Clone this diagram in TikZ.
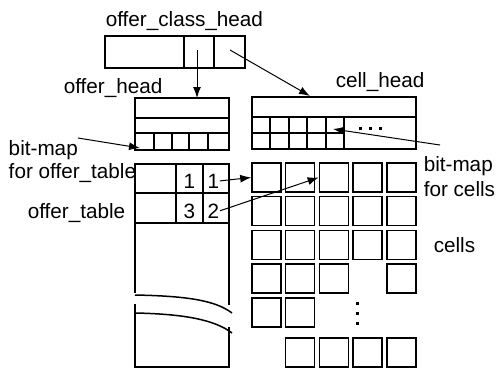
\documentclass[tikz,border=0pt]{standalone}
\usepackage{fontspec}
\setmainfont{Liberation Sans}
\usetikzlibrary{arrows.meta}

\tikzset{
  cell/.style={draw, line width=1.5pt, minimum size=29pt, inner sep=0pt},
  lbl/.style={anchor=base west, inner sep=0pt},
  num/.style={anchor=base east, inner sep=0pt},
  ptr/.style={->, line width=1pt},
}

\begin{document}
\begin{tikzpicture}[x=1pt,y=-1pt,>={Latex[length=11pt,width=8pt]},line width=1.5pt,
    font=\fontsize{20.7}{24}\selectfont]
    \useasboundingbox (0,0) rectangle (496,368);
    % offer_class_head
    \node[lbl] (och label) at (105,26) {offer\_class\_head};
    \draw (105,36) rectangle (245,68);
    \draw (184,36) -- (184,68) (214,36) -- (214,68);
    \coordinate (och a) at (197,50);
    \coordinate (och b) at (230,50);
    % offer_head
    \node[lbl] (oh label) at (63,93) {offer\_head};
    \draw (135,98) rectangle (229,150);
    \draw (135,118) -- (229,118) (135,133) -- (229,133);
    \foreach \x in {154,172,189,208} {
      \draw (\x,133) -- (\x,150);
    }
    \coordinate (oh top) at (197,98);
    \coordinate (oh bits) at (140,148);
    % cell_head
    \node[lbl] (ch label) at (335,87) {cell\_head};
    \draw (252,97) rectangle (416,149);
    \draw (252,117) -- (416,117) (252,133) -- (344,133);
    \foreach \x in {270,289,307,326,344} {
      \draw (\x,117) -- (\x,149);
    }
    \foreach \x in {360,370,380} {
      \fill (\x-1.5,126.5) rectangle ++(3,3);
    }
    \coordinate (ch top) at (310,96);
    \coordinate (ch bits) at (333,129);
    % offer_table (open at the bottom, with a break)
    \draw (135,293) -- (135,164) -- (229,164) -- (229,305);
    \draw (135,304) -- (135,367) -- (229,367) -- (229,327);
    \draw (135,193) -- (229,193) (135,223) -- (229,223);
    \draw (176,164) -- (176,223) (203,164) -- (203,223);
    \draw (135,295) .. controls (185,296) and (215,300) .. (232,313);
    \draw (135,313) .. controls (185,314) and (215,320) .. (232,333);
    \node[num] (n11) at (196,188) {1};
    \node[num] (n12) at (220,188) {1};
    \node[num] (n21) at (196,218) {3};
    \node[num] (n22) at (220,218) {2};
    % cells
    \foreach \r/\cols in {0/{0,1,2,3,4},1/{0,1,2,3,4},2/{0,1,2,3,4},3/{0,1,2,4},4/{0,1}} {
      \foreach \c in \cols {
        \node[cell] (c-\r-\c) at (266.5+33.7*\c,177.5+33.7*\r) {};
      }
    }
    \foreach \c in {1,...,4} {
      \node[cell] (c-5-\c) at (266.5+33.7*\c,352.5) {};
    }
    \foreach \y in {303,313,323} {
      \fill (355.5,\y-1.5) rectangle ++(3,3);
    }
    % labels
    \node[lbl] (bm left) at (8,155) {bit-map};
    \node[lbl] (bm left2) at (8,178) {for offer\_table};
    \node[lbl] (ot label) at (27,218) {offer\_table};
    \node[lbl] (bm right) at (423,171) {bit-map};
    \node[lbl] (bm right2) at (423,196) {for cells};
    \node[lbl] (cells label) at (433,252) {cells};
    \coordinate (bm left tail) at (78,138);
    \coordinate (bm right tail) at (440,145);
    % pointers
    \draw[ptr] (och a) -- (oh top);
    \draw[ptr] (och b) -- (ch top);
    \draw[ptr] (bm left tail) -- (oh bits);
    \draw[ptr] (bm right tail) -- (ch bits);
    \draw[ptr] (n12.east) -- (c-0-0.west);
    \draw[ptr] (n22.east) -- (c-0-2.west);
\end{tikzpicture}
\end{document}
